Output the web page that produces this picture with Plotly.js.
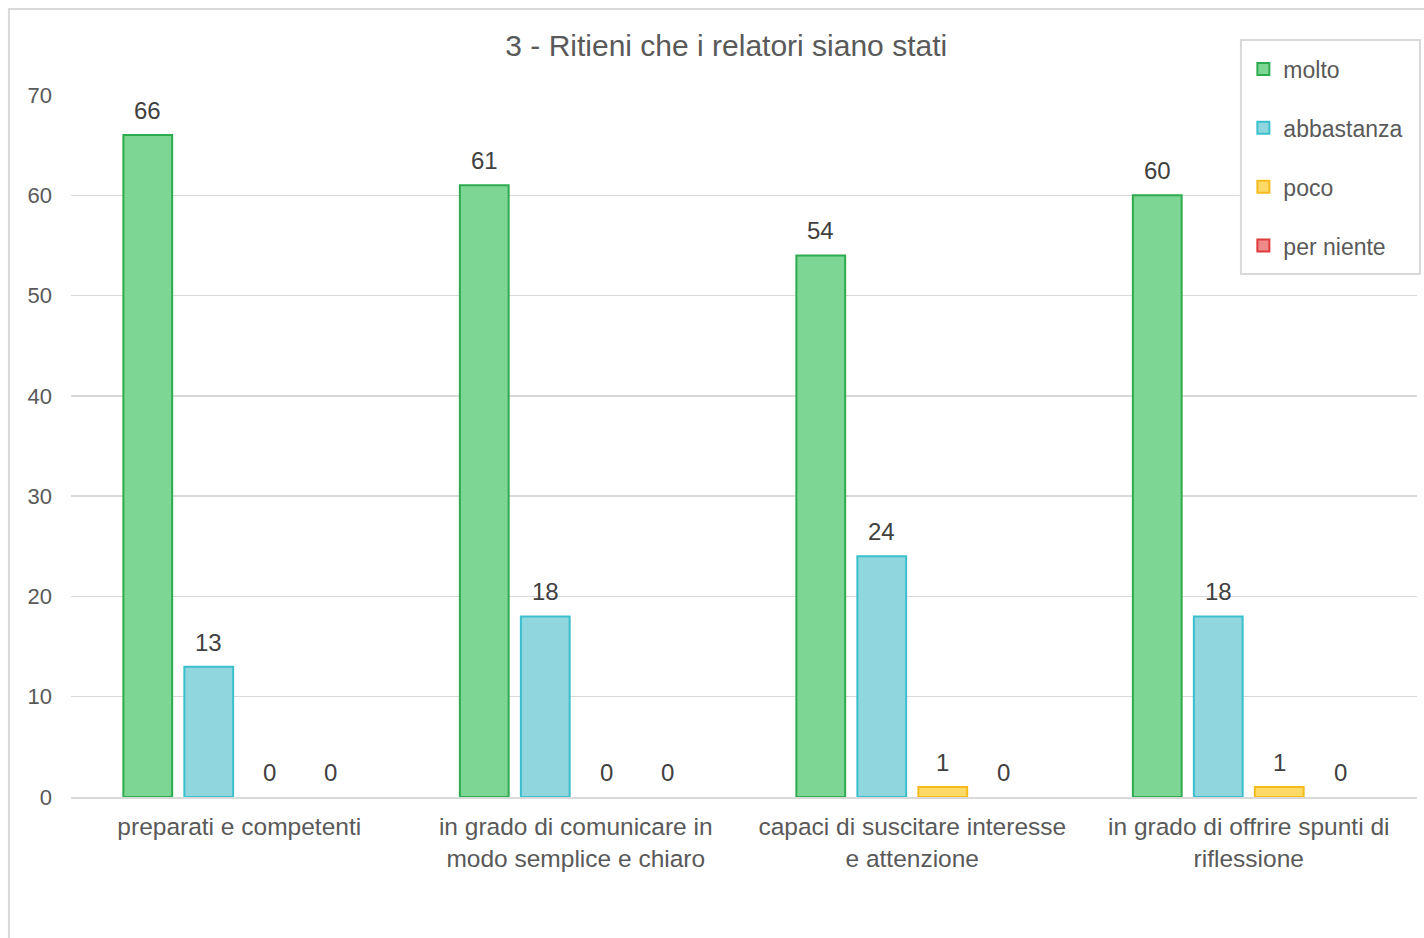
<!DOCTYPE html>
<html>
<head>
<meta charset="utf-8">
<script src="https://cdn.plot.ly/plotly-3.0.1.min.js"></script>
<style>html,body{margin:0;padding:0;background:#fff;}#chart{width:1424px;height:938px;}</style>
</head>
<body>
<div id="chart"></div>
<script>
const categories = [
  "preparati e competenti",
  "in grado di comunicare in<br>modo semplice e chiaro",
  "capaci di suscitare interesse<br>e attenzione",
  "in grado di offrire spunti di<br>riflessione"
];
const seriesNames = ["molto", "abbastanza", "poco", "per niente"];
const molto = [66, 61, 54, 60];
const abbastanza = [13, 18, 24, 18];
const poco = [0, 0, 1, 1];
const perNiente = [0, 0, 0, 0];
const titleText = "3 - Ritieni che i relatori siano stati";

const values = [molto, abbastanza, poco, perNiente];
const fills = ["#7dd694", "#8fd6de", "#ffd966", "#f08a8a"];
const lines = ["#2eaa4f", "#3bbfcc", "#f5bb1e", "#e03c3c"];
const FONT = "Liberation Sans, Arial, sans-serif";
const bargap = 0.275, bargroupgap = 0.2;

const traces = values.map((v, i) => ({
  type: "bar",
  name: seriesNames[i],
  x: categories,
  // zero-valued bars are not drawn (as in the original), labels still shown below
  y: v.map(d => d === 0 ? null : d),
  marker: {color: fills[i], line: {color: lines[i], width: 2}},
  legendgroup: "g" + i,
  hoverinfo: "x+y+name"
}));

// data labels positioned through the category axis (index + group slot offset)
const nS = values.length;
const slot = (1 - bargap) / nS;
const annotations = [];
values.forEach((v, i) => {
  v.forEach((d, j) => {
    annotations.push({
      xref: "x", yref: "y",
      x: j - (1 - bargap) / 2 + slot * (i + 0.5),
      y: d,
      text: String(d),
      showarrow: false,
      yanchor: "bottom",
      yshift: 9,
      font: {family: FONT, size: 24, color: "#404040"}
    });
  });
});

const layout = {
  width: 1424, height: 938,
  margin: {l: 71, r: 7, t: 95, b: 141},
  paper_bgcolor: "#ffffff",
  plot_bgcolor: "#ffffff",
  font: {family: FONT, color: "#595959"},
  title: {text: titleText, font: {size: 30, color: "#595959"}, x: 0.51, xanchor: "center", y: 0.952, yanchor: "middle"},
  barmode: "group",
  bargap: bargap,
  bargroupgap: bargroupgap,
  xaxis: {
    type: "category",
    tickfont: {size: 24.5, color: "#595959"},
    showline: true, linecolor: "#d9d9d9", linewidth: 2,
    ticks: "", showgrid: false, zeroline: false,
    ticklabelstandoff: 7
  },
  yaxis: {
    range: [0, 70],
    dtick: 10,
    tickfont: {size: 22, color: "#595959"},
    showgrid: true, gridcolor: "#d9d9d9", gridwidth: 1.5,
    zeroline: false, showline: false, ticks: "",
    ticklabelstandoff: 18
  },
  legend: {
    x: 0.871, xanchor: "left", y: 1.0677, yanchor: "top",
    bgcolor: "rgba(0,0,0,0)", borderwidth: 0,
    font: {size: 23, color: "#595959"},
    tracegroupgap: 26,
    traceorder: "grouped",
    itemwidth: 30
  },
  annotations: annotations,
  shapes: [
    {
      type: "rect", xref: "paper", yref: "paper",
      x0: -0.0461, x1: 1.2, y0: -0.5, y1: 1.1225,
      line: {color: "#d9d9d9", width: 2}, fillcolor: "rgba(0,0,0,0)", layer: "below"
    },
    {
      type: "rect", xref: "paper", yref: "paper",
      x0: 0.8692, x1: 1.0022, y0: 0.745, y1: 1.0783,
      line: {color: "#d9d9d9", width: 2}, fillcolor: "#ffffff", layer: "above"
    }
  ]
};

Plotly.newPlot("chart", traces, layout, {displayModeBar: false, staticPlot: true});
</script>
</body>
</html>
